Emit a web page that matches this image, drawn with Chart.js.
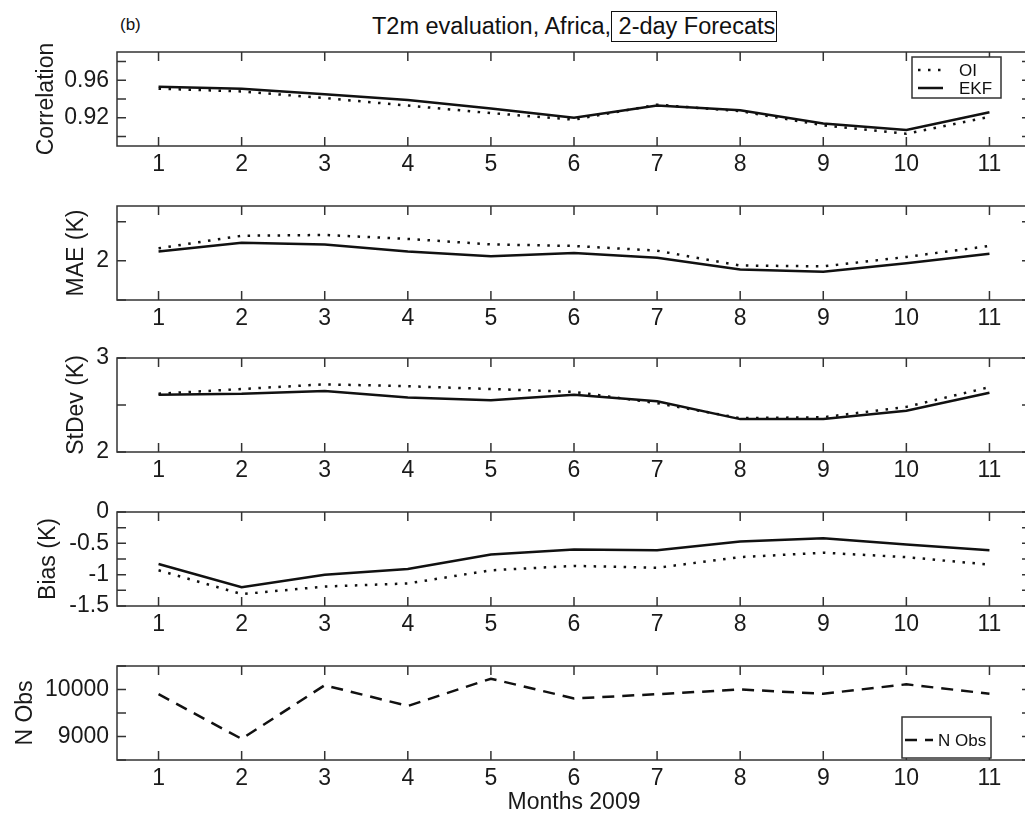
<!DOCTYPE html>
<html><head><meta charset="utf-8">
<script src="https://cdn.jsdelivr.net/npm/chart.js@4.4.1/dist/chart.umd.min.js"></script>
<style>
html,body{margin:0;padding:0;background:#fff;overflow:hidden;width:1025px;height:813px;position:relative;}
canvas{position:absolute;left:0;}
#title{position:absolute;left:372px;top:11px;font:23.5px 'Liberation Sans',Arial,sans-serif;color:#111;white-space:nowrap;line-height:27px;}
#title span{display:inline-block;border:1.5px solid #111;padding:1px 1px 1px 0;line-height:27px;}
#tag{position:absolute;left:120px;top:15px;font:17px 'Liberation Sans',Arial,sans-serif;color:#111;}
</style></head><body>
<div id="tag">(b)</div>
<div id="title">T2m evaluation, Africa,<span>&nbsp;2-day Forecats</span></div>
<canvas id="c1" width="1040" height="150" style="top:38px"></canvas>
<canvas id="c2" width="1040" height="150" style="top:192px"></canvas>
<canvas id="c3" width="1040" height="150" style="top:344px"></canvas>
<canvas id="c4" width="1040" height="150" style="top:498px"></canvas>
<canvas id="c5" width="1040" height="161" style="top:652px"></canvas>
<script>
// ---- data ----
const months = [1,2,3,4,5,6,7,8,9,10,11];
const corrOI  = [0.951,0.948,0.941,0.933,0.925,0.918,0.934,0.927,0.912,0.903,0.921];
const corrEKF = [0.953,0.951,0.945,0.939,0.930,0.920,0.933,0.928,0.914,0.907,0.926];
const maeOI   = [2.16,2.32,2.33,2.28,2.21,2.19,2.13,1.94,1.93,2.05,2.19];
const maeEKF  = [2.12,2.23,2.21,2.12,2.06,2.10,2.04,1.89,1.86,1.97,2.09];
const sdOI    = [2.62,2.67,2.72,2.70,2.67,2.64,2.52,2.36,2.37,2.48,2.69];
const sdEKF   = [2.61,2.62,2.65,2.58,2.55,2.61,2.54,2.35,2.35,2.44,2.63];
const biasOI  = [-0.93,-1.31,-1.19,-1.14,-0.93,-0.86,-0.89,-0.72,-0.65,-0.72,-0.84];
const biasEKF = [-0.83,-1.20,-1.00,-0.91,-0.68,-0.60,-0.61,-0.47,-0.42,-0.52,-0.61];
const nObs    = [9900,8950,10090,9650,10230,9810,9900,10000,9910,10110,9910];

const corrTicks = [0.90,0.92,0.94,0.96,0.98];
const corrTickLabels = ['','0.92','','0.96',''];
const maeTicks = [1.5,2,2.5];
const maeTickLabels = ['','2',''];
const sdTicks = [2,2.5,3];
const sdTickLabels = ['2','','3'];
const biasTicks = [-1.5,-1.25,-1,-0.75,-0.5,-0.25,0];
const biasTickLabels = ['-1.5','','-1','','-0.5','','0'];
const nTicks = [8500,9000,9500,10000,10500];
const nTickLabels = ['','9000','','10000',''];
const xTickLabels = months.map(String);

Chart.defaults.font.family = "'Liberation Sans', Arial, sans-serif";
Chart.defaults.font.size = 23;
Chart.defaults.color = '#1a1a1a';

const frameTicks = {
  id: 'frameTicks',
  afterDatasetsDraw(chart) {
    const {ctx, chartArea: a, scales: {x, y}} = chart;
    ctx.save();
    ctx.strokeStyle = '#333';
    ctx.lineWidth = 1.5;
    ctx.beginPath();
    x.ticks.forEach(t => {
      const p = x.getPixelForValue(t.value);
      ctx.moveTo(p, a.bottom); ctx.lineTo(p, a.bottom - 9);
      ctx.moveTo(p, a.top); ctx.lineTo(p, a.top + 9);
    });
    y.ticks.forEach(t => {
      const p = y.getPixelForValue(t.value);
      ctx.moveTo(a.left, p); ctx.lineTo(a.left + 9, p);
      ctx.moveTo(a.right, p); ctx.lineTo(a.right - 9, p);
    });
    ctx.stroke();
    ctx.strokeRect(a.left, a.top, a.right - a.left, a.bottom - a.top);
    ctx.restore();
  }
};

const boxLegend = {
  id: 'boxLegend',
  afterDraw(chart, args, o) {
    if (!o || !o.enabled) return;
    const {ctx, chartArea: a} = chart;
    const x0 = a.right - o.dr - o.w;
    const y0 = o.fromTop ? a.top + o.d : a.bottom - o.d - o.h;
    ctx.save();
    ctx.fillStyle = '#fff';
    ctx.fillRect(x0, y0, o.w, o.h);
    ctx.strokeStyle = '#333';
    ctx.lineWidth = 1.5;
    ctx.strokeRect(x0, y0, o.w, o.h);
    ctx.font = "17px 'Liberation Sans', Arial, sans-serif";
    ctx.textBaseline = 'middle';
    ctx.fillStyle = '#111';
    chart.data.datasets.forEach((ds, i) => {
      const yy = y0 + o.rows[i];
      ctx.beginPath();
      ctx.setLineDash(ds.borderDash || []);
      ctx.lineWidth = ds.borderWidth;
      ctx.strokeStyle = ds.borderColor;
      ctx.moveTo(x0 + o.lx0, yy); ctx.lineTo(x0 + o.lx1, yy);
      ctx.stroke();
      ctx.setLineDash([]);
      ctx.fillText(ds.label, x0 + o.tx, yy + 1);
    });
    ctx.restore();
  }
};

function pts(vals) { return months.map((m, i) => ({x: m, y: vals[i]})); }

function makePanel(id, H, datasets, yTitle, yPad, yMin, yMax, yTicks, yLabels, legend, xTitle) {
  const plotH = 94, padTop = 14;
  new Chart(document.getElementById(id), {
    type: 'line',
    data: {datasets},
    options: {
      responsive: false,
      animation: false,
      layout: {padding: {top: padTop, right: 9, left: 0, bottom: 0}},
      elements: {point: {radius: 0}, line: {tension: 0}},
      plugins: {legend: {display: false}, tooltip: {enabled: false}, boxLegend: legend},
      scales: {
        x: {
          type: 'linear', min: 0.5, max: 11.5,
          grid: {display: false, drawTicks: false}, border: {display: false},
          afterBuildTicks: s => { s.ticks = months.map(v => ({value: v})); },
          afterFit: s => { s.height = H - padTop - plotH; s.paddingLeft = 0; s.paddingRight = 0; },
          ticks: {padding: 5, autoSkip: false, maxRotation: 0,
                  callback: (v, i) => xTickLabels[i]},
          title: xTitle ? {display: true, text: xTitle, padding: {top: 0, bottom: -3}} : {display: false}
        },
        y: {
          type: 'linear', min: yMin, max: yMax,
          grid: {display: false, drawTicks: false}, border: {display: false},
          afterBuildTicks: s => { s.ticks = yTicks.map(v => ({value: v})); },
          afterFit: s => { s.width = 117; s.paddingTop = 0; s.paddingBottom = 0; },
          ticks: {padding: 8, autoSkip: false, callback: (v, i) => yLabels[i]},
          title: {display: true, text: yTitle, padding: {top: yPad, bottom: 0}}
        }
      }
    },
    plugins: [frameTicks, boxLegend]
  });
}

const solid = {borderColor: '#111', borderWidth: 2.5, fill: false};
const dotted = {borderColor: '#111', borderWidth: 2.5, borderDash: [2.5, 7.5], fill: false};

makePanel('c1', 150,
  [{label: 'OI', data: pts(corrOI), ...dotted}, {label: 'EKF', data: pts(corrEKF), ...solid}],
  'Correlation', 32.7, 0.89, 0.99, corrTicks, corrTickLabels,
  {enabled: true, fromTop: true, d: 5, dr: 30, w: 89, h: 41, rows: [13, 31], lx0: 6, lx1: 31, tx: 47});
makePanel('c2', 150,
  [{label: 'OI', data: pts(maeOI), ...dotted}, {label: 'EKF', data: pts(maeEKF), ...solid}],
  'MAE (K)', 62.7, 1.5, 2.7, maeTicks, maeTickLabels, {enabled: false});
makePanel('c3', 150,
  [{label: 'OI', data: pts(sdOI), ...dotted}, {label: 'EKF', data: pts(sdEKF), ...solid}],
  'StDev (K)', 62.7, 2, 3, sdTicks, sdTickLabels, {enabled: false});
makePanel('c4', 150,
  [{label: 'OI', data: pts(biasOI), ...dotted}, {label: 'EKF', data: pts(biasEKF), ...solid}],
  'Bias (K)', 34.7, -1.5, 0, biasTicks, biasTickLabels, {enabled: false});
makePanel('c5', 161,
  [{label: 'N Obs', data: pts(nObs), borderColor: '#111', borderWidth: 2.5, borderDash: [12, 8], fill: false}],
  'N Obs', 12.2, 8500, 10500, nTicks, nTickLabels,
  {enabled: true, fromTop: false, d: 2, dr: 40, w: 89, h: 41, rows: [23], lx0: 3, lx1: 31, tx: 36},
  'Months 2009');
</script>
</body></html>
